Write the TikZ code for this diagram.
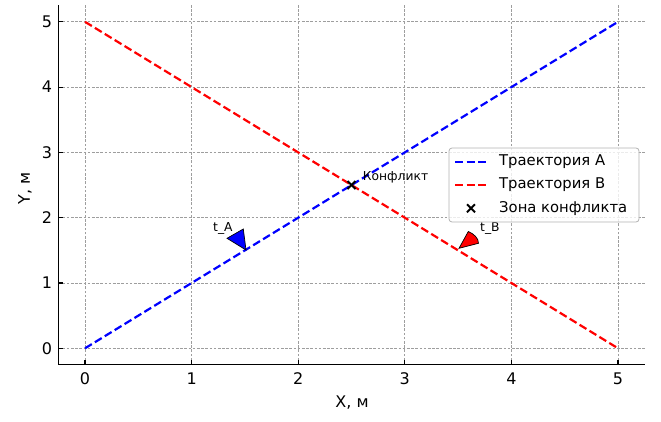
\documentclass[tikz,border=0pt]{standalone}
\usepackage{fontspec}
\setmainfont{DejaVu Sans}
\begin{document}
\begin{tikzpicture}[x=1pt,y=1pt,
  gridline/.style={black!38, line width=0.8pt, dash pattern=on 2.6pt off 1.6pt},
  traj/.style={line width=2.2pt, dash pattern=on 8pt off 3.6pt},
  spine/.style={line width=1.3pt, black},
  tickmark/.style={line width=1.1pt, black},
  ticklab/.style={font=\fontsize{16}{18}\selectfont, inner sep=0pt},
  axlab/.style={font=\fontsize{16}{18}\selectfont, inner sep=0pt},
  legtext/.style={font=\fontsize{14.8}{16}\selectfont, inner sep=0pt, anchor=west},
  annot/.style={font=\fontsize{12.3}{14}\selectfont, inner sep=0pt, anchor=base west},
  xmark/.style={line width=2pt, black}
]
\useasboundingbox (0,0) rectangle (661,421);
\begin{scope}[shift={(85,72.7)}, x=106.6pt, y=65.3pt]
  % grid
  \foreach \i in {0,...,5} {
    \draw[gridline] (\i,-0.25) -- (\i,5.25);
    \draw[gridline] (-0.25,\i) -- (5.25,\i);
  }
  % trajectories
  \coordinate (a0) at (0,0); \coordinate (a1) at (5,5);
  \coordinate (b0) at (0,5); \coordinate (b1) at (5,0);
  \draw[traj, blue] (a0) -- (a1);
  \draw[traj, red] (b0) -- (b1);
  % conflict marker
  \coordinate (c) at (2.5,2.5);
  \draw[xmark] ([shift={(-4pt,-4pt)}]c) -- ([shift={(4pt,4pt)}]c);
  \draw[xmark] ([shift={(-4pt,4pt)}]c) -- ([shift={(4pt,-4pt)}]c);
  % spines
  \coordinate (o) at (-0.25,-0.25);
  \coordinate (xe) at (5.25,-0.25);
  \coordinate (ye) at (-0.25,5.25);
  \draw[spine] (ye) -- (o) -- (xe);
  % ticks and labels
  \foreach \i in {0,...,5} {
    \draw[tickmark] (\i,-0.25) -- ++(0,5pt);
    \node[ticklab, anchor=north] (xt\i) at ([yshift=-8pt]\i,-0.25) {\i};
    \draw[tickmark] (-0.25,\i) -- ++(5pt,0);
    \node[ticklab, anchor=east] (yt\i) at ([xshift=-6pt]-0.25,\i) {\i};
  }
\end{scope}
% axis labels
\node[axlab] (xl) at (352,18) {X, м};
\node[axlab, rotate=90] (yl) at (25,233) {Y, м};
% annotation arrows
\fill[blue, draw=black, line width=0.7pt] (227,182.7) -- (243.3,192) -- (246,171) -- cycle;
\fill[red, draw=black, line width=0.7pt] (459,172.7) -- (468.3,189.5) .. controls (474,187) and (478.5,183) .. (478.5,177.7) -- cycle;
\node[annot] (ta) at (213,190) {t\_A};
\node[annot] (tb) at (480,190) {t\_B};
\node[annot] (kf) at (362.7,240.3) {Конфликт};
% legend
\node[draw=black!30, line width=0.8pt, fill=white, fill opacity=0.8, rounded corners=3pt, minimum width=190pt, minimum height=74pt, inner sep=0pt] (leg) at (544,236) {};
\coordinate (l1a) at (455,259.2); \coordinate (l1b) at (487,259.2);
\coordinate (l2a) at (455,236); \coordinate (l2b) at (487,236);
\coordinate (l3) at (471,212.7);
\draw[traj, blue] (l1a) -- (l1b);
\draw[traj, red] (l2a) -- (l2b);
\draw[xmark] ([shift={(-4pt,-4pt)}]l3) -- ([shift={(4pt,4pt)}]l3);
\draw[xmark] ([shift={(-4pt,4pt)}]l3) -- ([shift={(4pt,-4pt)}]l3);
\node[legtext] (lt1) at (499,259.2) {Траектория А};
\node[legtext] (lt2) at (499,236) {Траектория В};
\node[legtext] (lt3) at (499,212.7) {Зона конфликта};
\end{tikzpicture}
\end{document}
